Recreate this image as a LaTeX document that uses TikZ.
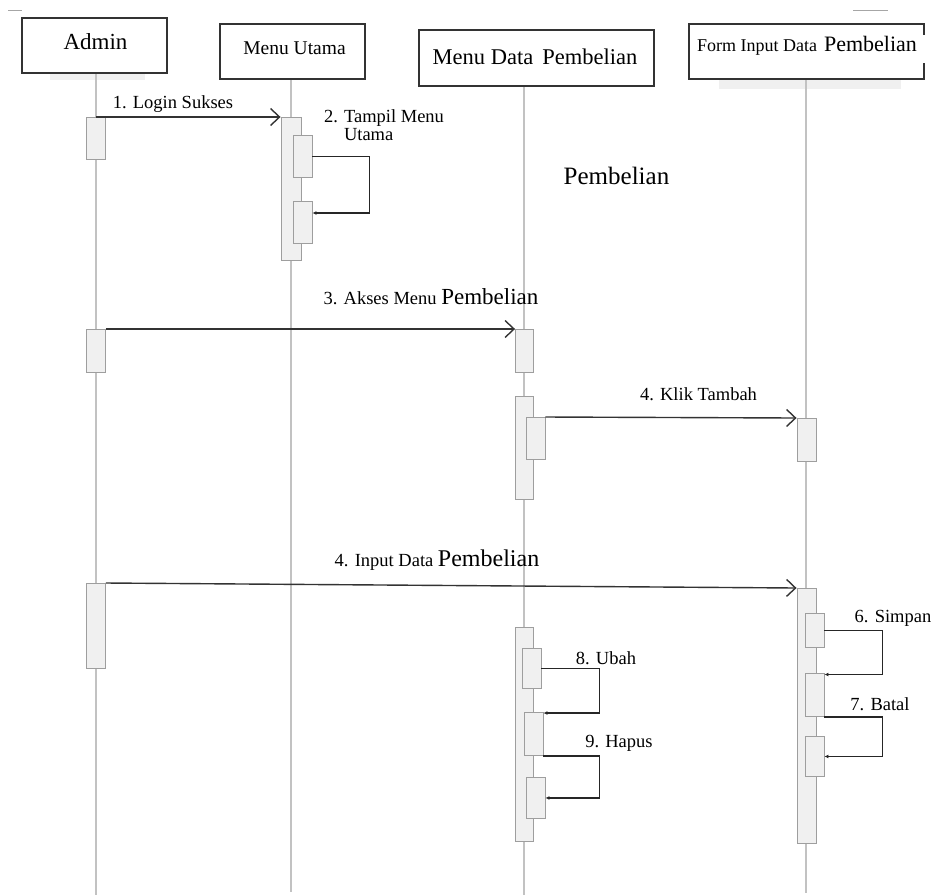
\documentclass[tikz,border=0pt]{standalone}
\usepackage{fontspec}
\setmainfont{Liberation Serif}
\usetikzlibrary{arrows.meta}
\newcommand{\fs}[1]{\fontsize{#1}{#1}\selectfont}
\begin{document}
\begin{tikzpicture}[x=1pt,y=-1pt,
  lifeline/.style={draw=black!24, line width=1.6pt},
  actorbox/.style={draw=black!80, line width=1.6pt, fill=white, inner sep=0pt},
  shadowbox/.style={fill=black!6, draw=none},
  bar/.style={draw=black!38, fill=black!6, line width=0.9pt, minimum width=19pt, inner sep=0pt, anchor=north},
  msg/.style={draw=black!80, line width=1.4pt, -{Straight Barb[length=9pt,width=17pt,line width=1.4pt]}},
  selfmsg/.style={draw=black!85, line width=1.3pt, -{Latex[length=4pt,width=4pt]}},
  lbl/.style={font=\fs{18.5}, inner sep=1pt},
  title/.style={inner sep=0pt}]
\useasboundingbox (0,0) rectangle (933,895);

% stray marks along the top edge
\draw[black!35, line width=1pt] (8,10) -- (22,10);
\draw[black!35, line width=1pt] (853,10) -- (888,10);

% shadows under the actor boxes
\fill[shadowbox] (50,73) rectangle (145,80);
\fill[shadowbox] (719,79) rectangle (901,89);

% lifelines
\coordinate (adminTop) at (96,73);   \coordinate (adminEnd) at (96,895);
\coordinate (utamaTop) at (291,79);  \coordinate (utamaEnd) at (291,892);
\coordinate (dataTop) at (524,86);   \coordinate (dataEnd) at (524,895);
\coordinate (formTop) at (806,79);   \coordinate (formEnd) at (806,893);
\draw[lifeline] (adminTop) -- (adminEnd);
\draw[lifeline] (utamaTop) -- (utamaEnd);
\draw[lifeline] (dataTop) -- (dataEnd);
\draw[lifeline] (formTop) -- (formEnd);

% actor boxes
\node[actorbox, minimum width=145pt, minimum height=55pt] (admin) at (94.5,45.5) {};
\node[title, font=\fs{23}] (adminT) at (95.5,42) {Admin};

\node[actorbox, minimum width=145pt, minimum height=55pt] (utama) at (292.5,51.5) {};
\node[title, font=\fs{19.5}] (utamaT) at (294.5,48.5) {Menu Utama};

\node[actorbox, minimum width=235pt, minimum height=56pt] (data) at (536.5,58) {};
\node[title, font=\fs{22.5}] (dataT) at (535,57) {Menu Data\hspace{9pt}Pembelian};

\node[minimum width=235pt, minimum height=55pt, inner sep=0pt] (form) at (806.5,51.5) {};
\draw[black!80, line width=1.6pt]
  ([yshift=-11pt]form.north east) -- (form.north east) -- (form.north west)
  -- (form.south west) -- (form.south east) -- ([yshift=16pt]form.south east);
\node[title] (formT) at (807,46) {{\fs{18}Form Input Data}\hspace{7pt}{\fs{22}Pembelian}};

\node[title, font=\fs{25}] (loose) at (616.5,176) {Pembelian};

% activation bars: Admin
\node[bar, minimum height=42pt] (adminB1) at (96,117) {};
\node[bar, minimum height=43pt] (adminB2) at (96,329) {};
\node[bar, minimum height=85pt] (adminB3) at (96,583) {};

% activation bars: Menu Utama
\node[bar, minimum width=20pt, minimum height=143pt] (utamaB) at (291,117) {};
\node[bar, minimum height=42pt] (utamaI1) at (302.5,135) {};
\node[bar, minimum height=42pt] (utamaI2) at (302.5,201) {};

% activation bars: Menu Data Pembelian
\node[bar, minimum width=18pt, minimum height=43pt] (dataB1) at (524.5,329) {};
\node[bar, minimum width=18pt, minimum height=103pt] (dataB2) at (524.5,396) {};
\node[bar, minimum height=42pt] (dataI) at (535.5,417) {};
\node[bar, minimum width=18pt, minimum height=214pt] (dataB3) at (524,627) {};
\node[bar, minimum height=40pt] (dataI1) at (531.5,648) {};
\node[bar, minimum height=43pt] (dataI2) at (533.5,712) {};
\node[bar, minimum height=41pt] (dataI3) at (535.5,777) {};

% activation bars: Form Input Data Pembelian
\node[bar, minimum height=43pt] (formB1) at (806.5,418) {};
\node[bar, minimum height=255pt] (formB2) at (806.5,588) {};
\node[bar, minimum height=34pt] (formI1) at (814.5,613) {};
\node[bar, minimum height=43pt] (formI2) at (814.5,673) {};
\node[bar, minimum height=40pt] (formI3) at (814.5,736) {};

% messages
\draw[msg] (adminB1.north) -- (utamaB.north west);
\node[lbl] (m1) at (173,104) {1. Login Sukses};

\draw[selfmsg] (utamaI1.east) -- ++(57,0) |- ([yshift=-12pt]utamaI2.north east);
\node[lbl, align=left] (m2) at (384,125) {2. Tampil Menu\\\hspace*{20pt}Utama};

\draw[msg] (adminB2.north east) -- (dataB1.north west);
\node[lbl] (m3) at (431,297) {3. Akses Menu {\fs{23}Pembelian}};

\draw[msg] (dataI.north east) -- (formB1.north west);
\node[lbl] (m4) at (698.5,394) {4. Klik Tambah};

\draw[msg] (adminB3.north east) -- (formB2.north west);
\node[lbl] (m5) at (437,560) {4. Input Data {\fs{24}Pembelian}};

\draw[selfmsg] (formI1.east) -- ++(58,0) |- ([yshift=-1.5pt]formI2.north east);
\node[lbl, fill=white, inner sep=2pt] (m6) at (893,618) {6. Simpan};

\draw[selfmsg] (formI2.south east) -- ++(58,0) |- (formI3.east);
\node[lbl] (m7) at (880,704) {7. Batal};

\draw[selfmsg] (dataI1.east) -- ++(58,0) |- ([yshift=-1pt]dataI2.north east);
\node[lbl] (m8) at (606,658) {8. Ubah};

\draw[selfmsg] (dataI2.south east) -- ++(56,0) |- (dataI3.east);
\node[lbl] (m9) at (619,743) {9. Hapus};
\end{tikzpicture}
\end{document}
